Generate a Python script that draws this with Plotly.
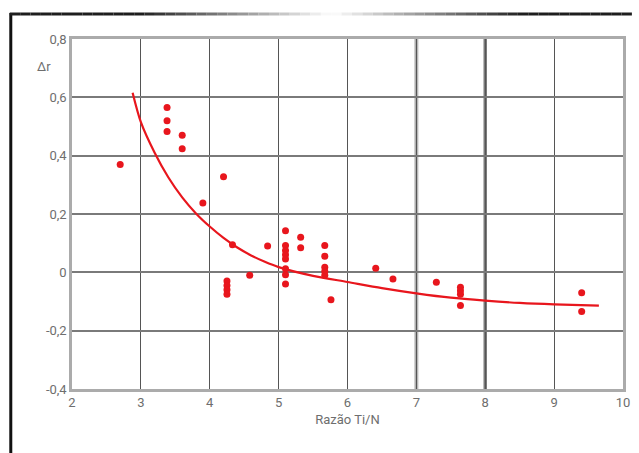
import plotly.graph_objects as go

# ---- data ----
x_points = [2.7, 3.38, 3.38, 3.38, 3.6, 3.6, 3.9, 4.2, 4.33,
            4.25, 4.25, 4.25, 4.25, 4.58, 4.84,
            5.1, 5.1, 5.1, 5.1, 5.1, 5.1, 5.1, 5.1,
            5.32, 5.32,
            5.67, 5.67, 5.67, 5.67, 5.67, 5.76,
            6.41, 6.66, 7.29,
            7.64, 7.64, 7.64, 7.64,
            9.4, 9.4]
y_points = [0.37, 0.565, 0.52, 0.483, 0.47, 0.424, 0.238, 0.328, 0.095,
            -0.03, -0.045, -0.06, -0.075, -0.01, 0.09,
            0.143, 0.092, 0.075, 0.06, 0.046, 0.012, -0.008, -0.04,
            0.12, 0.084,
            0.092, 0.055, 0.017, 0.004, -0.01, -0.094,
            0.014, -0.023, -0.034,
            -0.051, -0.063, -0.075, -0.114,
            -0.07, -0.134]

x_curve = [2.88, 3.0, 3.2, 3.4, 3.6, 3.8, 4.0, 4.2, 4.4, 4.6, 4.8, 5.0, 5.5, 6.0, 6.5, 7.0, 7.5, 8.0, 8.5, 9.0, 9.65]
y_curve = [0.616, 0.515, 0.41, 0.325, 0.257, 0.202, 0.157, 0.118, 0.085, 0.058, 0.036, 0.018,
           -0.012, -0.033, -0.054, -0.072, -0.087, -0.097, -0.105, -0.11, -0.114]

x_ticks = [2, 3, 4, 5, 6, 7, 8, 9, 10]
x_ticklabels = ["2", "3", "4", "5", "6", "7", "8", "9", "10"]
y_ticks = [-0.4, -0.2, 0, 0.2, 0.4, 0.6, 0.8]
y_ticklabels = ["-0,4", "-0,2", "0", "0,2", "0,4", "0,6", "0,8"]

W, H = 639, 453
L, R, T, B = 72, 630, 39, 389
RED = "#e8161d"
FONT = "Liberation Sans Narrow, Roboto, Arial Narrow, sans-serif"
TXT = "#6e6e6e"

def px(xp):
    return (xp - L) / (R - L)

def py(yp):
    return (B - yp) / (B - T)

fig = go.Figure()
fig.add_trace(go.Scatter(x=x_curve, y=y_curve, mode="lines",
                         line=dict(color=RED, width=2.2, shape="spline", smoothing=0.8),
                         hoverinfo="skip", showlegend=False))
fig.add_trace(go.Scatter(x=x_points, y=y_points, mode="markers",
                         marker=dict(color=RED, size=7, line=dict(width=0)),
                         showlegend=False))

shapes = []
# emphasised grid lines
shapes.append(dict(type="line", xref="x", yref="y", x0=7, x1=7, y0=-0.4, y1=0.8,
                   line=dict(color="#b8b8b8", width=4), layer="below"))
shapes.append(dict(type="line", xref="x", yref="y", x0=7, x1=7, y0=-0.4, y1=0.8,
                   line=dict(color="#959595", width=1.2), layer="below"))
shapes.append(dict(type="line", xref="x", yref="y", x0=8, x1=8, y0=-0.4, y1=0.8,
                   line=dict(color="#7c7c7c", width=3.5), layer="below"))

# outer frame: left black bar and gradient top bar
shapes.append(dict(type="line", xref="paper", yref="paper",
                   x0=px(10), x1=px(10), y0=py(13), y1=py(460),
                   line=dict(color="#111111", width=3)))
N = 60
x_start, x_end = 9, 639
for i in range(N):
    a = x_start + (x_end - x_start) * i / N
    b = x_start + (x_end - x_start) * (i + 1) / N
    mid = (a + b) / 2
    t = abs(mid - 335) / 300.0
    f = min(1.0, t / 0.65)
    g = int(255 - 225 * f)
    shapes.append(dict(type="line", xref="paper", yref="paper",
                       x0=px(a), x1=px(b), y0=py(14), y1=py(14),
                       line=dict(color=f"rgb({g},{g},{g})", width=3)))

annotations = [
    dict(text="Δr", xref="paper", yref="paper", x=px(44), y=py(67),
         showarrow=False, font=dict(family=FONT, size=13, color=TXT),
         xanchor="center", yanchor="middle"),
]

fig.update_layout(
    width=W, height=H,
    margin=dict(l=L, r=W - R, t=T, b=H - B),
    paper_bgcolor="white", plot_bgcolor="white",
    shapes=shapes, annotations=annotations,
    font=dict(family=FONT, size=13, color=TXT),
    xaxis=dict(range=[2, 10], tickvals=x_ticks, ticktext=x_ticklabels,
               showgrid=True, gridcolor="#555555", gridwidth=1,
               zeroline=False, showline=True, linecolor="#ababab", linewidth=2.5,
               mirror=True, ticks="", ticklen=0,
               title=dict(text="Razão Ti/N", font=dict(family=FONT, size=13, color=TXT),
                          standoff=6),
               tickfont=dict(family=FONT, size=13, color=TXT)),
    yaxis=dict(range=[-0.4, 0.8], tickvals=y_ticks, ticktext=y_ticklabels,
               showgrid=True, gridcolor="#7a7a7a", gridwidth=1.5,
               zeroline=False, showline=True, linecolor="#ababab", linewidth=2.5,
               mirror=True, ticks="", ticklen=0,
               tickfont=dict(family=FONT, size=13, color=TXT)),
)

fig.write_html("out.html")
